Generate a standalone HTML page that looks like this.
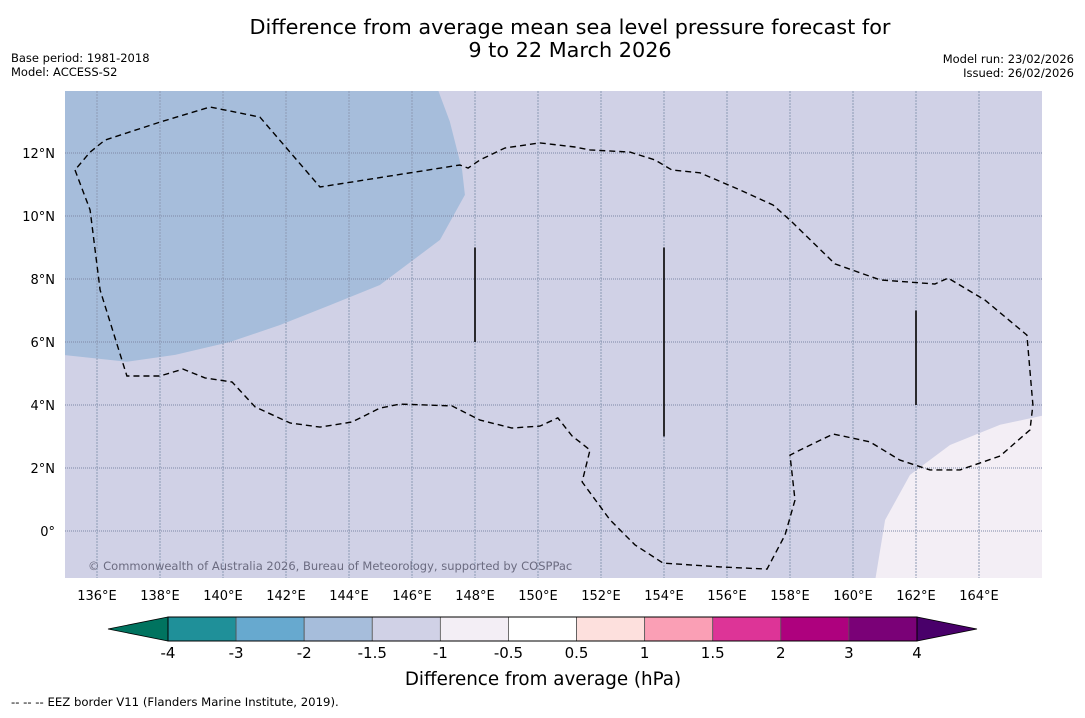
<!DOCTYPE html>
<html><head><meta charset="utf-8">
<style>
body{margin:0;background:#fff;width:1085px;height:713px;overflow:hidden;font-family:"Liberation Sans","DejaVu Sans",sans-serif}
svg text{font-family:"DejaVu Sans","Liberation Sans",sans-serif}
</style></head>
<body>
<svg id="chart" width="1085" height="713" xmlns="http://www.w3.org/2000/svg">
<text x="570" y="34" text-anchor="middle" font-size="20.8" fill="#000">Difference from average mean sea level pressure forecast for</text>
<text x="570" y="57" text-anchor="middle" font-size="20.8" fill="#000">9 to 22 March 2026</text>
<text x="11" y="62" font-size="11.5">Base period: 1981-2018</text>
<text x="11" y="76" font-size="11.5">Model: ACCESS-S2</text>
<text x="1074" y="63" font-size="11.5" text-anchor="end">Model run: 23/02/2026</text>
<text x="1074" y="77" font-size="11.5" text-anchor="end">Issued: 26/02/2026</text>
<defs><clipPath id="mapclip"><rect x="65" y="91" width="977" height="487"/></clipPath></defs>
<g id="map" clip-path="url(#mapclip)"></g>
<g id="axes"></g>
<g id="cbar"></g>
<text x="543" y="685" text-anchor="middle" font-size="18.3">Difference from average (hPa)</text>
<text x="11" y="706" font-size="11.7">--  --  -- EEZ border V11 (Flanders Marine Institute, 2019).</text>
</svg>
<script>
const lonTicks=[136,138,140,142,144,146,148,150,152,154,156,158,160,162,164];
const latTicks=[0,2,4,6,8,10,12];
const eezLon=[135.30,135.78,136.10,136.95,138.00,138.73,139.43,140.29,141.02,142.13,143.08,144.10,144.98,145.62,147.27,148.16,149.17,150.06,150.63,151.08,151.65,151.40,152.29,153.08,153.97,155.78,157.27,157.84,158.16,158.00,158.32,159.37,160.54,161.49,162.44,163.40,164.67,165.62,165.71,165.52,164.19,163.02,162.60,160.86,159.43,158.00,157.46,156.41,155.14,154.25,153.71,152.92,151.65,151.17,150.06,148.95,148.16,147.78,147.52,143.08,141.17,139.59,138.00,136.25,135.78,135.30];
const eezLat=[11.46,10.19,7.65,4.92,4.92,5.14,4.86,4.73,3.94,3.43,3.30,3.46,3.90,4.03,3.97,3.52,3.27,3.33,3.59,3.02,2.57,1.56,0.35,-0.44,-1.02,-1.14,-1.21,-0.13,0.98,2.41,2.57,3.08,2.83,2.25,1.94,1.94,2.38,3.21,4.00,6.22,7.33,8.03,7.84,7.97,8.48,9.87,10.35,10.83,11.37,11.46,11.78,12.03,12.10,12.19,12.32,12.16,11.78,11.52,11.62,10.92,13.14,13.46,12.98,12.41,12.03,11.46];
const negLon=[134.9,146.79,147.2,147.59,147.68,146.89,145.62,144.98,143.40,141.81,140.22,138.48,136.95,134.9];
const negLat=[14.1,14.1,13.0,11.46,10.67,9.24,8.29,7.81,7.17,6.54,6.00,5.59,5.37,5.59];
const lowLon=[166.1,164.67,163.08,161.81,161.02,160.70,166.1];
const lowLat=[3.68,3.37,2.73,1.78,0.35,-1.6,-1.6];
const barLon=[148,154,162];
const barLat0=[9,9,7];
const barLat1=[6,3,4];
const cbLevels=["-4","-3","-2","-1.5","-1","-0.5","0.5","1","1.5","2","3","4"];
const cbColors=["#1f9099","#67a9cf","#a6bddb","#d0d1e6","#f3eef5","#ffffff","#fde0dd","#fa9fb5","#dd3497","#ae017e","#7a0177"];
const cbExt=["#00735f","#49006a"];

const NS="http://www.w3.org/2000/svg";
const X=lon=>97+(lon-136)*31.5;
const Y=lat=>531-lat*31.5;
function mk(tag,attrs,parent){const e=document.createElementNS(NS,tag);for(const k in attrs)e.setAttribute(k,attrs[k]);parent.appendChild(e);return e;}
const map=document.getElementById('map'),axes=document.getElementById('axes'),cb=document.getElementById('cbar');
const pts=(lo,la)=>lo.map((v,i)=>X(v).toFixed(1)+','+Y(la[i]).toFixed(1)).join(' ');

let bg=mk('rect',{x:65,y:91,width:977,height:487,fill:'#d0d1e6'},map);


let neg=mk('polygon',{points:pts(negLon,negLat),fill:'#a6bddb'},map);


let low=mk('polygon',{points:pts(lowLon,lowLat),fill:'#f3eef5'},map);


lonTicks.forEach(l=>{
  let g=mk('line',{x1:X(l),x2:X(l),y1:91,y2:578,stroke:'#8d9ab4','stroke-width':1,'stroke-dasharray':'2 1'},map);
  
  
  let t=mk('text',{x:X(l),y:600,'text-anchor':'middle','font-size':13},axes);t.textContent=l+'°E';
  
  
});
latTicks.forEach(l=>{
  let g=mk('line',{x1:65,x2:1042,y1:Y(l),y2:Y(l),stroke:'#7d88a6','stroke-width':1,'stroke-dasharray':'1 1'},map);
  
  
  let t=mk('text',{x:55,y:Y(l)+5,'text-anchor':'end','font-size':13},axes);t.textContent=l===0?'0°':l+'°N';
  
  
});
let eez=mk('polyline',{points:pts(eezLon,eezLat),fill:'none',stroke:'#000','stroke-width':1.4,'stroke-dasharray':'6 4'},map);


barLon.forEach((l,i)=>{
  let b=mk('line',{x1:X(l),x2:X(l),y1:Y(barLat0[i]),y2:Y(barLat1[i]),stroke:'#000','stroke-width':1.6},map);
  
  
});
let cr=mk('text',{x:88,y:570,'font-size':11.5,fill:'#6b6b80'},map);cr.textContent='© Commonwealth of Australia 2026, Bureau of Meteorology, supported by COSPPac';



const cx0=168,cw=(917-168)/cbColors.length,cy=617,ch=24;
let e1=mk('polygon',{points:`${cx0},${cy} ${cx0},${cy+ch} 108,${cy+ch/2}`,fill:cbExt[0],stroke:'#000','stroke-width':0.8},cb);


let e2=mk('polygon',{points:`917,${cy} 917,${cy+ch} 977,${cy+ch/2}`,fill:cbExt[1],stroke:'#000','stroke-width':0.8},cb);


cbColors.forEach((c,i)=>{
  let r=mk('rect',{x:cx0+i*cw,y:cy,width:cw,height:ch,fill:c,stroke:'#555','stroke-width':0.8},cb);
  
  
});
mk('rect',{x:cx0,y:cy,width:917-cx0,height:ch,fill:'none',stroke:'#000','stroke-width':1},cb);
cbLevels.forEach((v,i)=>{
  let t=mk('text',{x:cx0+i*cw,y:658,'text-anchor':'middle','font-size':15},cb);t.textContent=v;
  
  
});
</script>
</body></html>
